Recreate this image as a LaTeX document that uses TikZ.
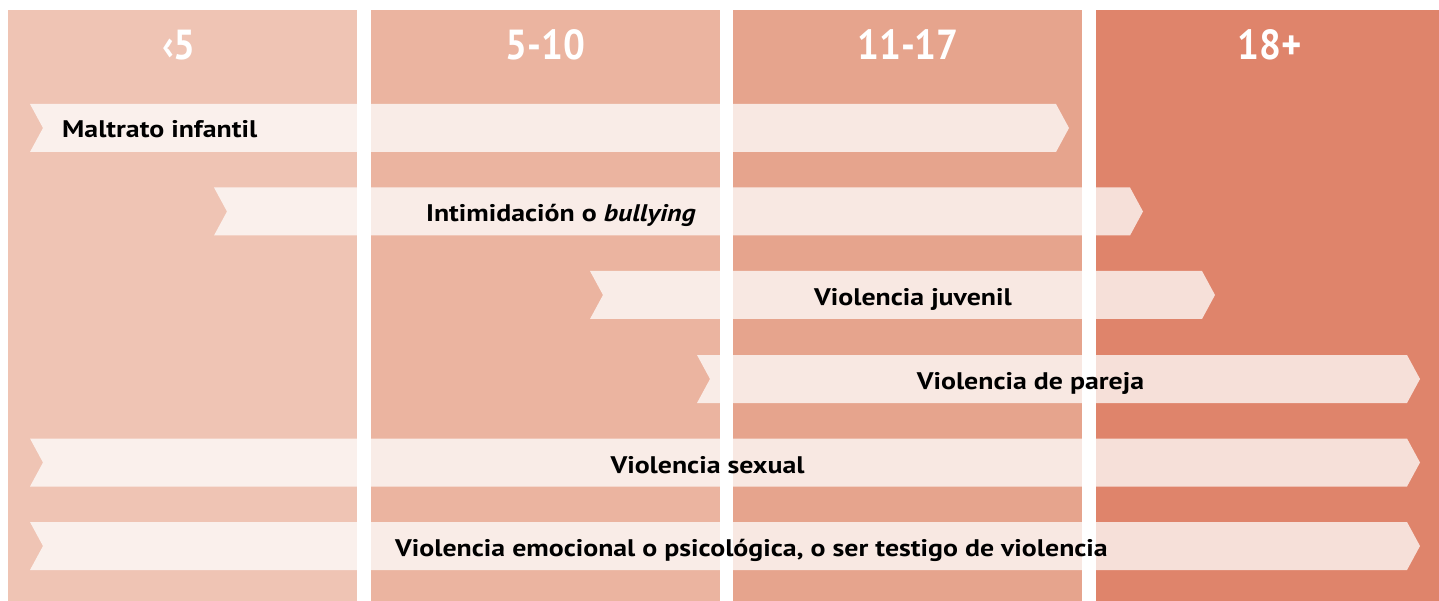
\documentclass[tikz,border=0pt]{standalone}
\usepackage{fontspec}
\setmainfont{PT Sans}[FakeStretch=1.16]
\newfontfamily\headfont{PT Sans}[FakeStretch=0.92]
\usetikzlibrary{positioning}
\definecolor{agea}{HTML}{EFC4B4}
\definecolor{ageb}{HTML}{EBB4A0}
\definecolor{agec}{HTML}{E6A48D}
\definecolor{aged}{HTML}{DF846B}
\begin{document}
\begin{tikzpicture}[x=1pt, y=-1pt,
    every node/.style = {inner sep=0pt, font=\fontsize{24}{28}\selectfont\bfseries},
    agehead/.style = {text=white, font=\headfont\fontsize{42}{46}\selectfont\bfseries},
    band/.style = {fill=white, fill opacity=0.75}]
\useasboundingbox (0,0) rectangle (1439,601);
\fill[white] (0,0) rectangle (1439,601);

% age columns
\foreach \xa/\xb/\c in {8/364/agea, 364/727/ageb, 727/1089/agec, 1089/1439/aged}
  \fill[\c] (\xa,10) rectangle (\xb,601);

% bands
\foreach \l/\r/\y in {30/1069/104, 214/1143/187.5, 590/1215/271,
                      697/1420/355, 30/1420/438.5, 30/1420/522}
  \fill[band] (\l,\y) -- (\r-13,\y) -- (\r,\y+24) -- (\r-13,\y+48)
    -- (\l,\y+48) -- (\l+13,\y+24) -- cycle;

% white gaps between the columns
\foreach \xa/\xb in {357/371, 720/733, 1082/1096}
  \fill[white] (\xa,10) rectangle (\xb,601);

\node[agehead, anchor=base] (under5) at (179,60) {‹5};
\node[agehead, anchor=base] (age5) at (545.5,60) {5-10};
\node[agehead, anchor=base] (age11) at (908,60) {11-17};
\node[agehead, anchor=base] (age18) at (1270,60) {18+};

\node[anchor=base west] (maltrato) at (62,138) {Maltrato infantil};
\node[anchor=base] (bullying) at (561,222) {Intimidación o \textit{bullying}};
\node[anchor=base] (juvenil) at (913,305.5) {Violencia juvenil};
\node[anchor=base] (pareja) at (1030.5,389.5) {Violencia de pareja};
\node[anchor=base] (sexual) at (707.5,473) {Violencia sexual};
\node[anchor=base] (emocional) at (751.5,556.5) {Violencia emocional o psicológica, o ser testigo de violencia};
\end{tikzpicture}
\end{document}
